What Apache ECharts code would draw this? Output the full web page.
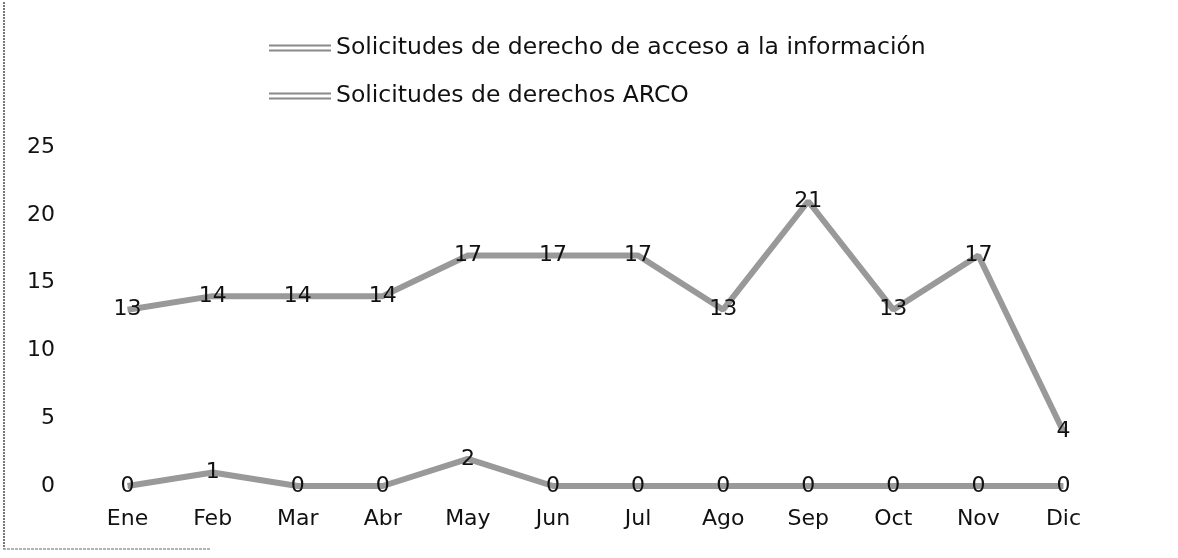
<!DOCTYPE html>
<html>
<head>
<meta charset="utf-8">
<script src="https://cdn.jsdelivr.net/npm/echarts@6/dist/echarts.min.js"></script>
<style>
  html, body { margin: 0; padding: 0; background: #fff; }
  #chart { width: 1178px; height: 558px; }
</style>
</head>
<body>
<div id="chart"></div>
<script>
// meses
const meses = ['Ene', 'Feb', 'Mar', 'Abr', 'May', 'Jun', 'Jul', 'Ago', 'Sep', 'Oct', 'Nov', 'Dic'];
const nombreAcceso = 'Solicitudes de derecho de acceso a la información';
const nombreArco = 'Solicitudes de derechos ARCO';
const acceso = [13, 14, 14, 14, 17, 17, 17, 13, 21, 13, 17, 4];
const arco = [0, 1, 0, 0, 2, 0, 0, 0, 0, 0, 0, 0];

const fuente = 'DejaVu Sans';

var myChart = echarts.init(document.getElementById('chart'));

function serie(nombre, datos) {
    return {
        name: nombre,
        type: 'line',
        data: datos,
        showSymbol: true,
        symbol: 'circle',
        symbolSize: 0,
        lineStyle: { color: '#999', width: 6 },
        itemStyle: { color: '#8a8a8a' },
        label: {
            show: true,
            position: 'inside',
            color: '#111',
            fontFamily: fuente,
            fontSize: 22
        },
        z: 2
    };
}

var option = {
    animation: false,
    backgroundColor: '#fff',
    legend: {
        orient: 'vertical',
        left: 264,
        top: 31,
        itemWidth: 62,
        itemHeight: 10,
        itemGap: 24,
        icon: 'path://M0,0 L62,0 L62,2 L0,2 Z M0,5 L62,5 L62,7 L0,7 Z',
        textStyle: { color: '#111', fontFamily: fuente, fontSize: 23.5 },
        data: [nombreAcceso, nombreArco]
    },
    grid: { left: 85, right: 72, top: 147, bottom: 72 },
    xAxis: {
        type: 'category',
        data: meses,
        boundaryGap: true,
        axisLine: { show: false },
        axisTick: { show: false },
        axisLabel: { color: '#111', fontFamily: fuente, fontSize: 22, margin: 22 }
    },
    yAxis: {
        type: 'value',
        min: 0,
        max: 25,
        interval: 5,
        splitLine: { show: false },
        axisLine: { show: false },
        axisTick: { show: false },
        axisLabel: { color: '#111', fontFamily: fuente, fontSize: 22, margin: 30 }
    },
    graphic: [
        {
            type: 'line',
            shape: { x1: 4, y1: 2, x2: 4, y2: 549 },
            style: { stroke: '#777', lineWidth: 2, lineDash: [2, 1] }
        },
        {
            type: 'line',
            shape: { x1: 3, y1: 549, x2: 210, y2: 549 },
            style: { stroke: '#999', lineWidth: 1.5, lineDash: [3, 1] }
        }
    ],
    series: [serie(nombreAcceso, acceso), serie(nombreArco, arco)]
};

myChart.setOption(option);
window.addEventListener('resize', myChart.resize);
</script>
</body>
</html>
